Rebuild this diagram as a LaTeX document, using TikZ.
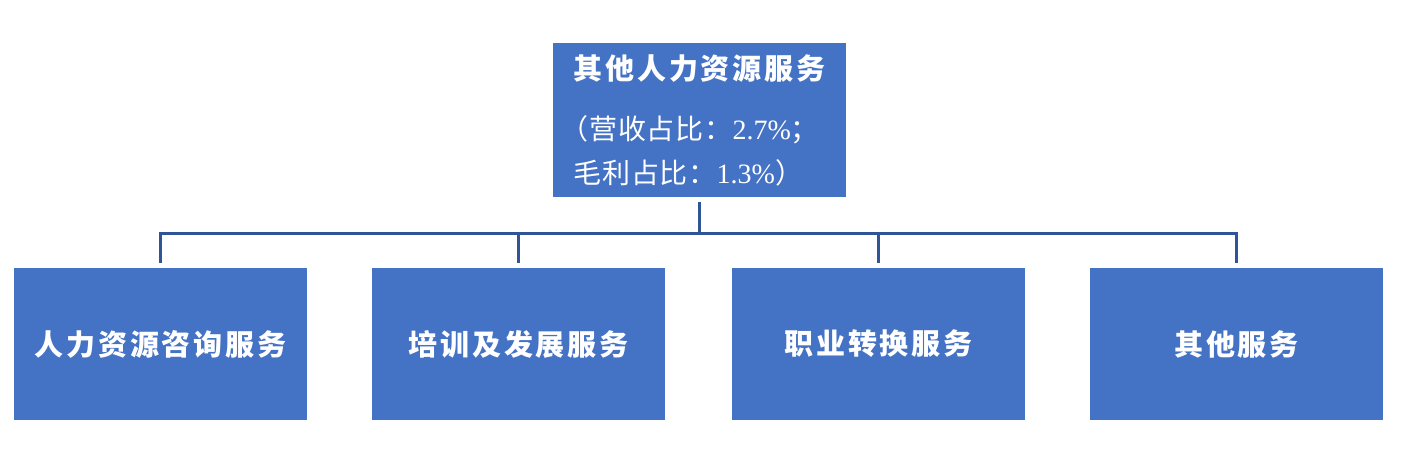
\documentclass[tikz,border=0pt]{standalone}
\usepackage{fontspec}
\setmainfont{Liberation Serif}
\newfontfamily\cjkt{Noto Sans CJK SC}[LetterSpace=10]
\newfontfamily\cjks{Noto Sans CJK SC}[LetterSpace=3]
\definecolor{boxblue}{HTML}{4472C4}
\definecolor{lineblue}{HTML}{2F5597}
\tikzset{
  bluebox/.style={fill=boxblue, draw=none, minimum width=293pt, minimum height=152pt, inner sep=0pt, text=white},
  titletext/.style={font=\cjkt\bfseries\fontsize{29}{34}\selectfont},
  conn/.style={draw=lineblue, line width=3pt}
}
\begin{document}
\begin{tikzpicture}[x=1pt,y=-1pt]
\useasboundingbox (0,0) rectangle (1410,450);
\node[bluebox, minimum height=154pt, align=left, font=\fontsize{28}{44}\selectfont] (top) at (699.5,120)
  {{\cjkt\bfseries\fontsize{29}{34}\selectfont 其他人力资源服务}\\[16pt]
   \hspace*{-13pt}{\cjks （营收占比：}2.7\%{\cjks ；}\\
   {\cjks 毛利占比：}1.3\%{\cjks ）}};
\node[bluebox, titletext] (b1) at (160.5,344) {人力资源咨询服务};
\node[bluebox, titletext] (b2) at (518.5,344) {培训及发展服务};
\node[bluebox, titletext] (b3) at (878.5,344) {职业转换服务};
\node[bluebox, titletext] (b4) at (1236.5,344) {其他服务};
\coordinate (bus) at (699.5,233);
\draw[conn, shorten <=5pt] (top.south) -- (top.south |- bus);
\draw[conn, shorten <=5pt, shorten >=5pt] (b1.north) -- (b1.north |- bus) -- (b4.north |- bus) -- (b4.north);
\draw[conn, shorten >=5pt] (b2.north |- bus) -- (b2.north);
\draw[conn, shorten >=5pt] (b3.north |- bus) -- (b3.north);
\end{tikzpicture}
\end{document}
